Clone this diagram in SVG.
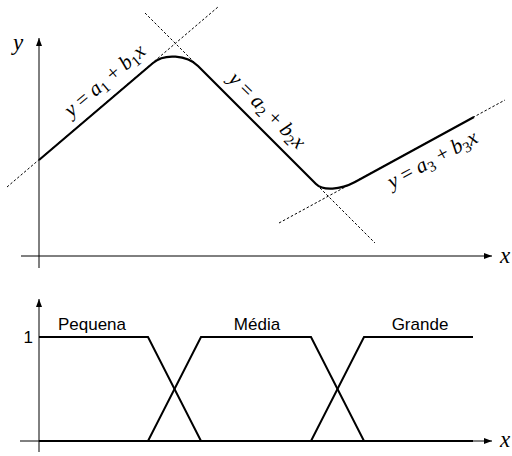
<svg xmlns="http://www.w3.org/2000/svg" width="512" height="456" viewBox="0 0 512 456">
<defs>
<style>
.axis{stroke:#000;stroke-width:1;fill:none}
.dash{stroke:#000;stroke-width:1;fill:none;stroke-dasharray:2.5 2}
.curve{stroke:#000;stroke-width:2.2;fill:none;stroke-linejoin:round}
.mf{stroke:#000;stroke-width:2;fill:none;stroke-linejoin:miter}
.math{font-family:"Liberation Serif",serif;font-style:italic;font-size:21px;fill:#000}
.ax{font-size:23px}
.rm{font-style:normal}
.sub{font-style:normal;font-size:15px}
.lab{font-family:"Liberation Sans",Arial,sans-serif;font-size:17px;fill:#000}
</style>
<marker id="arr" viewBox="0 0 8 6" refX="8" refY="3" markerWidth="8" markerHeight="6" markerUnits="userSpaceOnUse" orient="auto">
<path d="M0,0 L8,3 L0,6 Z" fill="#000"/>
</marker>
</defs>

<g id="top-plot">
<g id="axes-top">
<line class="axis" x1="39" y1="268" x2="39" y2="38" marker-end="url(#arr)"/>
<line class="axis" x1="21" y1="256" x2="492" y2="256" marker-end="url(#arr)"/>
<text class="math ax" x="13" y="50">y</text>
<text class="math ax" x="500" y="263">x</text>
</g>
<g id="guides">
<line class="dash" x1="7" y1="187" x2="218" y2="7"/>
<line class="dash" x1="145" y1="13" x2="375" y2="243"/>
<line class="dash" x1="279" y1="223" x2="505" y2="100"/>
</g>
<g id="curve">
<path class="curve" d="M39,160 L153,63 C164,53.1 187,55 198,66 L316,184 C323,191 340,190 355,182 L474,117"/>
</g>
<g id="label1" transform="translate(116.1,93.9) rotate(-40.46)">
<text class="math" x="0" y="-11" text-anchor="middle">y <tspan class="rm">=</tspan> a<tspan class="sub" dy="4">1</tspan><tspan dy="-4"> </tspan><tspan class="rm">+</tspan> b<tspan class="sub" dy="4">1</tspan><tspan dy="-4">x</tspan></text>
</g>
<g id="label2" transform="translate(254.8,122.8) rotate(45)">
<text class="math" x="0" y="-11" text-anchor="middle">y <tspan class="rm">=</tspan> a<tspan class="sub" dy="4">2</tspan><tspan dy="-4"> </tspan><tspan class="rm">+</tspan> b<tspan class="sub" dy="4">2</tspan><tspan dy="-4">x</tspan></text>
</g>
<g id="label3" transform="translate(424.1,144.3) rotate(-28.55)">
<text class="math" x="0" y="24" text-anchor="middle">y <tspan class="rm">=</tspan> a<tspan class="sub" dy="4">3</tspan><tspan dy="-4"> </tspan><tspan class="rm">+</tspan> b<tspan class="sub" dy="4">3</tspan><tspan dy="-4">x</tspan></text>
</g>
</g>

<g id="bottom-plot">
<g id="axes-bottom">
<line class="axis" x1="39" y1="452" x2="39" y2="299" marker-end="url(#arr)"/>
<line class="axis" x1="20" y1="441" x2="492" y2="441" marker-end="url(#arr)"/>
<text class="math ax" x="500" y="447">x</text>
<text class="lab" x="33" y="343" text-anchor="end">1</text>
</g>
<g id="pequena">
<path class="mf" d="M39,337 L148,337 L201,441 L473,441"/>
<text class="lab" x="92" y="330" text-anchor="middle">Pequena</text>
</g>
<g id="media">
<path class="mf" d="M39,441 L148,441 L201,337 L311,337 L364,441 L473,441"/>
<text class="lab" x="257" y="330" text-anchor="middle">Média</text>
</g>
<g id="grande">
<path class="mf" d="M39,441 L311,441 L364,337 L473,337"/>
<text class="lab" x="420" y="330" text-anchor="middle">Grande</text>
</g>
</g>
</svg>
